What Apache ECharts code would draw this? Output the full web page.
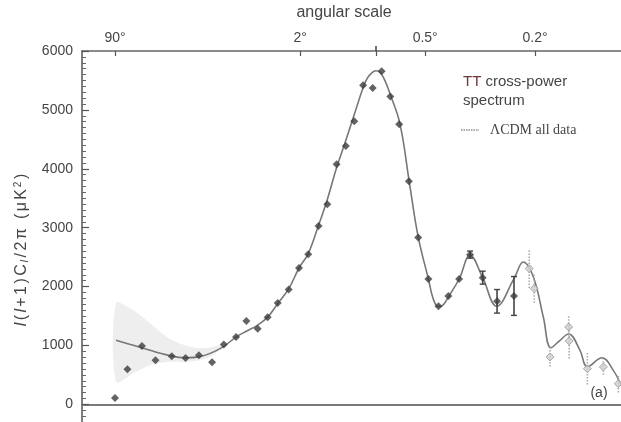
<!DOCTYPE html>
<html>
<head>
<meta charset="utf-8">
<script src="https://cdn.jsdelivr.net/npm/echarts@6/dist/echarts.min.js"></script>
<style>
html,body{margin:0;padding:0;background:#fff;}
#chart{width:621px;height:422px;}
</style>
</head>
<body>
<div id="chart"></div>
<script>
// ---- data (multipole l, power in μK²) ----
const angleDeg = [90, 2, 0.5, 0.2];
const angleLabels = ['90°', '2°', '0.5°', '0.2°'];
const peakMarkL = 220;

const pointL = [2, 3, 4.6, 6.6, 9.8, 13.3, 17.5, 22.6, 28, 34.6, 41, 49, 57, 66, 77, 88.6, 100, 114, 127, 142, 158, 174, 192, 213, 234, 256, 280, 308, 337, 371, 407, 445, 489, 537, 597, 671, 767];
const pointV = [107, 595, 991, 747, 815, 787, 832, 713, 1014, 1143, 1415, 1285, 1478, 1721, 1948, 2315, 2548, 3029, 3397, 4076, 4387, 4806, 5418, 5372, 5656, 5226, 4755, 3787, 2831, 2129, 1665, 1840, 2129, 2542, 2151, 1749, 1840];
const pointErr = [0, 0, 0, 0, 0, 0, 0, 0, 0, 0, 0, 0, 0, 0, 0, 0, 0, 0, 0, 0, 0, 0, 0, 0, 0, 0, 0, 0, 0, 0, 0, 0, 0, 60, 110, 200, 330];

const grayL = [862, 895, 1005, 1148, 1152, 1306, 1454, 1603];
const grayV = [2305, 1965, 804, 1313, 1076, 606, 634, 351];
const grayErr = [330, 240, 160, 200, 300, 270, 130, 150];

const modelL = [2.07, 3.59, 5.72, 8.7, 13.1, 17.9, 26.2, 35, 41, 49, 57, 66, 77, 88.6, 100, 114, 127, 142, 158, 174, 192, 201, 211, 220, 230, 242, 255, 282, 309, 337, 371, 388, 406, 425, 445, 489, 537, 597, 669, 767, 824, 889, 957, 1012, 1080, 1147, 1242, 1306, 1441, 1552, 1631];
const modelV = [1087, 1002, 917, 840, 790, 810, 945, 1150, 1240, 1345, 1480, 1710, 1960, 2315, 2560, 3040, 3480, 4020, 4480, 4920, 5380, 5540, 5630, 5665, 5640, 5500, 5277, 4767, 3787, 2842, 2128, 1790, 1660, 1690, 1823, 2128, 2531, 2151, 1665, 2134, 2417, 2162, 1483, 960, 1087, 1195, 917, 640, 790, 577, 330];

const bandL = [2.07, 3.59, 5.72, 8.7, 13.1, 17.9, 23.9, 30];
const bandLow = [379, 527, 662, 718, 718, 747, 860, 1040];
const bandHigh = [1715, 1596, 1376, 1143, 1002, 951, 980, 1040];

const yTicks = [0, 1000, 2000, 3000, 4000, 5000, 6000];
const L_MIN = 0.528, L_MAX = 1631;

// y-axis title pieces: [text, style]
const yTitleParts = [['l', 'i'], ['(', 'n'], ['l', 'i'], ['+', 'n'], ['1', 'n'], [')', 'n'], ['C', 'n'], ['l', 's'], ['/', 'n'], ['2', 'n'], ['π', 'n'], [' ', 'n'], ['(', 'n'], ['μ', 'n'], ['K', 'n'], ['2', 'p'], [')', 'n']];

// ---- x scale: axis runs in l^(1/4) ----
const u = l => Math.pow(l, 0.25);
const angleU = angleDeg.map(t => u(180 / t));

const chart = echarts.init(document.getElementById('chart'));
const FONT = '"Liberation Sans", Arial, sans-serif';
const TXT = '#454545';

function errRender(color, dash, cap) {
  return function (params, api) {
    const x = api.value(0), y = api.value(1), e = api.value(2);
    if (!e) return null;
    const p1 = api.coord([x, y - e]), p2 = api.coord([x, y + e]);
    const style = { stroke: color, lineWidth: 1.6, lineDash: dash || null };
    const ch = [{ type: 'line', shape: { x1: p1[0], y1: p1[1], x2: p2[0], y2: p2[1] }, style }];
    if (cap) {
      ch.push({ type: 'line', shape: { x1: p1[0] - cap, y1: p1[1], x2: p1[0] + cap, y2: p1[1] }, style: { stroke: color, lineWidth: 1.4 } });
      ch.push({ type: 'line', shape: { x1: p2[0] - cap, y1: p2[1], x2: p2[0] + cap, y2: p2[1] }, style: { stroke: color, lineWidth: 1.4 } });
    }
    return { type: 'group', children: ch };
  };
}

function bandRender(params, api) {
  if (params.dataIndex !== 0) return null;
  const pts = [];
  bandL.forEach((l, i) => pts.push(api.coord([u(l), bandHigh[i]])));
  for (let i = bandL.length - 1; i >= 0; i--) pts.push(api.coord([u(bandL[i]), bandLow[i]]));
  return { type: 'polygon', shape: { points: pts, smooth: 0.3 }, style: { fill: 'rgba(160,160,160,0.18)' } };
}

const PAD = [0, 1.2, 0, 1.2];
const yTitleRich = {
  n: { fontSize: 16, fontFamily: FONT, fill: TXT, padding: PAD },
  i: { fontStyle: 'italic', fontSize: 16, fontFamily: FONT, fill: TXT, padding: PAD },
  s: { fontStyle: 'italic', fontSize: 11, fontFamily: FONT, fill: TXT, padding: [6, 1.5, 0, 0.5] },
  p: { fontSize: 10, fontFamily: FONT, fill: TXT, padding: [0, 1.5, 7, 0.5] }
};
const yTitleText = yTitleParts.map(p => '{' + p[1] + '|' + p[0] + '}').join('');

const option = {
  animation: false,
  grid: { left: 82, right: 0, top: 51, height: 412.2, outerBoundsMode: 'none', containLabel: false },
  xAxis: [
    {
      type: 'value', position: 'bottom', min: u(L_MIN), max: u(L_MAX),
      axisLine: { show: true, onZero: true, lineStyle: { color: '#7a7a7a', width: 2 } },
      axisTick: { show: false }, axisLabel: { show: false }, splitLine: { show: false }
    },
    {
      type: 'value', position: 'top', min: u(L_MIN), max: u(L_MAX),
      axisLine: { show: true, onZero: false, lineStyle: { color: '#666', width: 1.5 } },
      axisTick: { show: true, inside: true, length: 5, customValues: angleU.concat([u(peakMarkL)]), lineStyle: { color: '#555', width: 1.2 } },
      axisLabel: {
        show: true, customValues: angleU, margin: 6, color: TXT, fontSize: 14, fontFamily: FONT,
        formatter: v => {
          let best = 0;
          angleU.forEach((a, i) => { if (Math.abs(a - v) < Math.abs(angleU[best] - v)) best = i; });
          return angleLabels[best];
        }
      },
      splitLine: { show: false }
    },
    {
      type: 'value', position: 'top', min: u(L_MIN), max: u(L_MAX),
      axisLine: { show: false, onZero: false },
      axisTick: { show: true, inside: false, length: 5, customValues: [u(peakMarkL)], lineStyle: { color: '#444', width: 1.5 } },
      axisLabel: { show: false }, splitLine: { show: false }
    }
  ],
  yAxis: {
    type: 'value', min: -1000, max: 6000, interval: 1000,
    axisLine: { show: true, onZero: false, lineStyle: { color: '#555', width: 1.5 } },
    axisTick: { show: true, inside: true, length: 7, lineStyle: { color: '#555', width: 1.2 } },
    minorTick: { show: true, splitNumber: 10, length: 4, lineStyle: { color: '#666', width: 1 } },
    axisLabel: {
      margin: 9, color: TXT, fontSize: 14, fontFamily: FONT,
      formatter: v => (yTicks.indexOf(v) >= 0 ? String(v) : '')
    },
    splitLine: { show: false }
  },
  series: [
    { type: 'custom', renderItem: bandRender, data: [[u(bandL[0]), bandLow[0]]], silent: true, z: 1 },
    {
      type: 'line', data: modelL.map((l, i) => [u(l), modelV[i]]),
      symbol: 'none', smooth: 0.4,
      lineStyle: { color: '#777', width: 1.6 }, z: 3
    },
    {
      type: 'custom', renderItem: errRender('#aaa', [1.5, 1.5], 0),
      data: grayL.map((l, i) => [u(l), grayV[i], grayErr[i]]), z: 4
    },
    {
      type: 'custom', renderItem: errRender('#444', null, 3),
      data: pointL.map((l, i) => [u(l), pointV[i], pointErr[i]]), z: 4
    },
    {
      type: 'scatter', data: grayL.map((l, i) => [u(l), grayV[i]]),
      symbol: 'diamond', symbolSize: 8,
      itemStyle: { color: '#d0d0d0', borderColor: '#999', borderWidth: 1 }, z: 5
    },
    {
      type: 'scatter', data: pointL.map((l, i) => [u(l), pointV[i]]),
      symbol: 'diamond', symbolSize: 8,
      itemStyle: { color: '#3c3c3c' }, z: 6
    }
  ],
  graphic: [
    {
      type: 'text', x: 344, y: 13,
      style: { text: 'angular scale', fontSize: 16, fontFamily: FONT, fill: TXT, align: 'center', verticalAlign: 'middle' }
    },
    {
      type: 'text', x: 22, y: 250, rotation: Math.PI / 2,
      style: {
        text: yTitleText,
        fontSize: 16, fontFamily: FONT, fill: TXT, align: 'center', verticalAlign: 'middle',
        rich: yTitleRich
      }
    },
    {
      type: 'text', x: 463, y: 82,
      style: {
        text: '{t|TT} cross-power', fontSize: 15, fontFamily: FONT, fill: TXT, verticalAlign: 'middle',
        rich: { t: { fontSize: 15, fontFamily: FONT, fill: '#6e3838' } }
      }
    },
    {
      type: 'text', x: 463, y: 101,
      style: { text: 'spectrum', fontSize: 15, fontFamily: FONT, fill: TXT, verticalAlign: 'middle' }
    },
    {
      type: 'line', shape: { x1: 461, y1: 130, x2: 479, y2: 130 },
      style: { stroke: '#aaa', lineWidth: 2, lineDash: [1.5, 1] }
    },
    {
      type: 'text', x: 490, y: 130,
      style: { text: 'ΛCDM all data', fontSize: 14, fontFamily: '"Liberation Serif", "Times New Roman", serif', fill: TXT, verticalAlign: 'middle' }
    },
    {
      type: 'text', x: 599, y: 393,
      style: { text: '(a)', fontSize: 14, fontFamily: FONT, fill: TXT, align: 'center', verticalAlign: 'middle' }
    }
  ]
};
chart.setOption(option);
</script>
</body>
</html>
